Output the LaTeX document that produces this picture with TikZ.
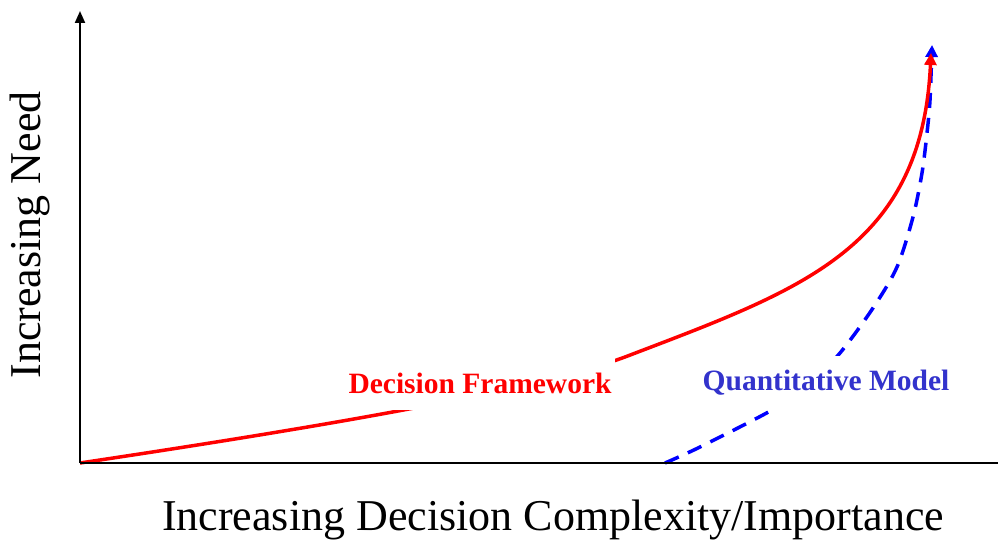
\documentclass[tikz,border=0pt]{standalone}
\usepackage{fontspec}
\setmainfont{Liberation Serif}
\usetikzlibrary{arrows.meta}
\definecolor{lblblue}{RGB}{51,51,204}
\tikzset{
  axis/.style={line width=2pt, black},
  redcurve/.style={line width=3.5pt, red, -{Triangle[length=12pt,width=12pt]}},
  bluecurve/.style={line width=3.5pt, blue, dash pattern=on 15pt off 10pt, -{Triangle[length=12pt,width=12pt]}},
  curvelabel/.style={fill=white, inner xsep=4pt, inner ysep=0pt, minimum height=54pt, font=\fontsize{29.5}{32}\selectfont\bfseries},
  axislabel/.style={font=\fontsize{44}{50}\selectfont}
}
\begin{document}
\begin{tikzpicture}[x=1pt,y=-1pt]
\useasboundingbox (0,0) rectangle (998,543);
\coordinate (O) at (80,463);
\coordinate (ytop) at (80,11);
\coordinate (xend) at (998,463);
\coordinate (redmid) at (625,357);
\coordinate (redtip) at (931,53);
\coordinate (bluestart) at (665,463);
\coordinate (bluetip) at (932,45);
% curves
\draw[bluecurve] plot[smooth, tension=0.5] coordinates {(bluestart) (700,447) (772,410) (808,385) (840,353) (873,308) (897,267) (913,217) (922,173) (927,133) (930,100) (bluetip)};
\draw[redcurve] (O) .. controls (300,430) and (530,392) .. (redmid)
  .. controls (800,290) and (922,250) .. (redtip);
% axes
\draw[axis] (O) -- (xend);
\draw[axis, -{Triangle[length=12pt,width=10pt]}] (O) -- (ytop);
% labels
\node[curvelabel, text=red] (dfw) at (480,383) {Decision Framework};
\node[curvelabel, text=lblblue] (qm) at (826,383) {Quantitative Model};
\node[axislabel, rotate=90] (ylab) at (30,235) {Increasing Need};
\node[axislabel] (xlab) at (553,520) {Increasing Decision Complexity/Importance};
\end{tikzpicture}
\end{document}
